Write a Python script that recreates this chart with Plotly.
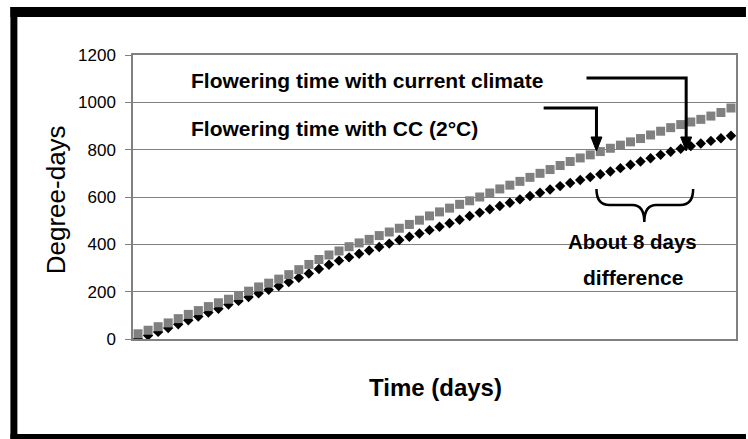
import plotly.graph_objects as go

# ---------------- data ----------------
days = list(range(1, 61))

current_climate = [0, 15, 30, 46, 62, 79, 95, 112, 128, 146,
                   161, 177, 193, 208, 224, 241, 259, 277, 296, 314,
                   331, 345, 360, 374, 389, 403, 418, 432, 446, 460,
                   474, 489, 504, 520, 534, 548, 562, 576, 590, 604,
                   618, 632, 646, 659, 672, 684, 696, 708, 722, 736,
                   750, 764, 778, 791, 804, 815, 826, 837, 848, 859]

cc_2deg = [22, 37, 52, 68, 86, 104, 120, 137, 153, 168,
           184, 202, 220, 236, 253, 272, 293, 315, 336, 355,
           372, 390, 406, 421, 437, 452, 468, 484, 502, 520,
           537, 553, 569, 584, 600, 617, 634, 650, 666, 683,
           700, 716, 733, 750, 765, 778, 792, 806, 819, 833,
           847, 862, 878, 893, 906, 917, 928, 942, 957, 976]

y_ticks = [0, 200, 400, 600, 800, 1000, 1200]

# ---------------- layout geometry ----------------
W, H = 748, 439
L, R, T, B = 133, 10, 55, 100
PW, PH = W - L - R, H - T - B

def px(x):
    return (x - L) / PW

def py(y):
    return (T + PH - y) / PH

def path(points, close=False):
    s = "M " + " L ".join(f"{px(x):.5f},{py(y):.5f}" for x, y in points)
    return s + (" Z" if close else "")

FONT = "Liberation Sans, Arial, sans-serif"

fig = go.Figure()
fig.add_trace(go.Scatter(
    x=days, y=current_climate, mode="markers", name="Current climate",
    marker=dict(symbol="diamond", size=8, color="#000000", line=dict(width=0)),
))
fig.add_trace(go.Scatter(
    x=days, y=cc_2deg, mode="markers", name="CC (2°C)",
    marker=dict(symbol="square", size=9, color="#808080", line=dict(width=0)),
))

shapes = []
# outer black frame (cut at right side)
for x0, y0, x1, y1 in [(10, 7, 17, 439), (10, 7, 748, 17), (10, 434, 748, 439)]:
    shapes.append(dict(type="rect", xref="paper", yref="paper",
                       x0=px(x0), x1=px(x1), y0=py(y0), y1=py(y1),
                       fillcolor="#000000", line=dict(width=0), layer="above"))

# arrows
arrow_lines = [[(588, 78), (688, 78), (688, 140)],
               [(545, 108), (598, 108), (598, 140)]]
for pts in arrow_lines:
    shapes.append(dict(type="path", xref="paper", yref="paper", path=path(pts),
                       line=dict(color="#000000", width=3)))
for cx in (688, 598):
    shapes.append(dict(type="path", xref="paper", yref="paper",
                       path=path([(cx - 5.5, 137), (cx + 5.5, 137), (cx, 151)], close=True),
                       fillcolor="#000000", line=dict(color="#000000", width=1)))

# curly brace
def q(c, p1):
    return f"Q {px(c[0]):.5f},{py(c[1]):.5f} {px(p1[0]):.5f},{py(p1[1]):.5f}"

brace = (f"M {px(598):.5f},{py(189):.5f} "
         + q((598, 205), (611, 205))
         + f" L {px(634):.5f},{py(205):.5f} "
         + q((646, 205), (646, 222))
         + " " + q((646, 205), (658, 205))
         + f" L {px(682):.5f},{py(205):.5f} "
         + q((695, 205), (695, 189)))
shapes.append(dict(type="path", xref="paper", yref="paper", path=brace,
                   line=dict(color="#000000", width=2.5)))

annotations = [
    dict(text="<b>Flowering time with current climate</b>", x=px(189), y=py(80),
         xanchor="left", yanchor="middle", font=dict(family=FONT, size=21, color="#000")),
    dict(text="<b>Flowering time with CC (2°C)</b>", x=px(189), y=py(128),
         xanchor="left", yanchor="middle", font=dict(family=FONT, size=21, color="#000")),
    dict(text="<b>About 8 days</b>", x=px(634.5), y=py(241),
         xanchor="center", yanchor="middle", font=dict(family=FONT, size=20.5, color="#000")),
    dict(text="<b>difference</b>", x=px(634.5), y=py(277),
         xanchor="center", yanchor="middle", font=dict(family=FONT, size=21, color="#000")),
    dict(text="<b>Time (days)</b>", x=px(436.5), y=py(388),
         xanchor="center", yanchor="middle", font=dict(family=FONT, size=24, color="#000")),
    dict(text="Degree-days", x=px(56), y=py(200), textangle=-90,
         xanchor="center", yanchor="middle", font=dict(family=FONT, size=26, color="#000")),
]
for a in annotations:
    a.update(xref="paper", yref="paper", showarrow=False)

fig.update_layout(
    width=W, height=H, autosize=False,
    margin=dict(l=L, r=R, t=T, b=B, pad=0),
    paper_bgcolor="#ffffff", plot_bgcolor="#ffffff",
    showlegend=False, hovermode=False,
    shapes=shapes, annotations=annotations,
    xaxis=dict(range=[0.5, 60.5], showticklabels=False, ticks="",
               showgrid=False, zeroline=False,
               showline=True, linecolor="#808080", linewidth=1.5, mirror=True),
    yaxis=dict(range=[0, 1200], tickvals=y_ticks, ticktext=[str(v) for v in y_ticks],
               ticks="outside", ticklen=6, tickcolor="#808080", tickwidth=1,
               ticklabelstandoff=6,
               tickfont=dict(family=FONT, size=17, color="#000"),
               showgrid=True, gridcolor="#808080", gridwidth=1, zeroline=False,
               showline=True, linecolor="#808080", linewidth=1.5, mirror=True),
)

fig.write_html("out.html", config={"displayModeBar": False},
               post_script="document.body.style.margin='0';")
